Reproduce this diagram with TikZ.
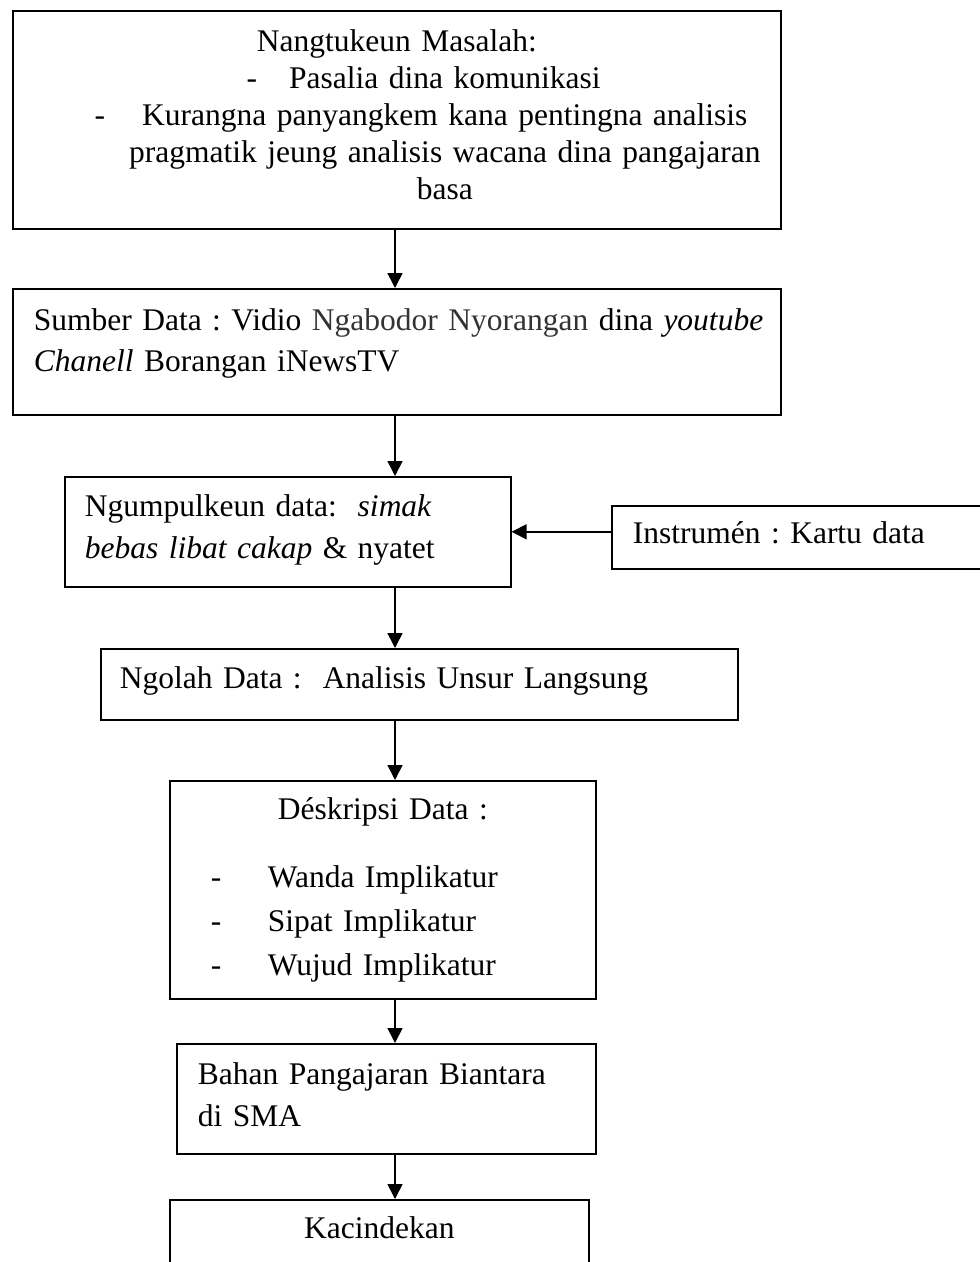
\documentclass[tikz,border=0pt]{standalone}
\usepackage{fontspec}
\setmainfont{Liberation Serif}
\usetikzlibrary{arrows.meta}
\frenchspacing

\begin{document}
\begin{tikzpicture}[x=1pt,y=1pt,yscale=-1,
  flowbox/.style={draw, line width=1.6pt, anchor=north west, inner ysep=0pt, align=left, font=\fontsize{31.5}{41}\selectfont},
  flowarrow/.style={line width=1.6pt, -{Triangle[length=15pt,width=15pt]}}]

\clip (0,0) rectangle (980,1262);

% Spine of the flow
\coordinate (spine) at (395,0);

% Problem box
\node [flowbox, inner xsep=0pt, text width=768pt, minimum height=218pt, font=\fontsize{31.5}{37}\selectfont] (masalah) at (12,10) {%
\makebox[768pt]{Nangtukeun Masalah:}\\
\makebox[768pt]{\hspace*{96pt}\llap{-\hspace{32pt}}Pasalia dina komunikasi}\\
\makebox[768pt]{\hspace*{96pt}\llap{-\hspace{37pt}}Kurangna panyangkem kana pentingna analisis}\\
\makebox[768pt]{\hspace*{96pt}pragmatik jeung analisis wacana dina pangajaran}\\
\makebox[768pt]{\hspace*{96pt}basa}\rule[-10pt]{0pt}{0pt}};

% Data source
\node [flowbox, inner xsep=21pt, text width=726pt, minimum height=126pt] (sumber) at (12,288) {%
\mbox{Sumber Data : Vidio {\color{black!80}Ngabodor Nyorangan} dina \textit{youtube}}\\
\textit{Chanell} Borangan iNewsTV\rule[-24pt]{0pt}{0pt}};

% Collecting data
\node [flowbox, inner xsep=20pt, text width=406pt, minimum height=110pt, font=\fontsize{31.5}{42}\selectfont] (kumpul) at (64,476) {%
Ngumpulkeun data:\ \ \textit{simak}\\
\textit{bebas libat cakap} \& nyatet\rule[-10pt]{0pt}{0pt}};

% Instrument
\node [flowbox, inner xsep=21pt, text width=360pt, text height=38pt, text depth=25pt] (instrumen) at (611,505) {Instrumén : Kartu data};

% Processing
\node [flowbox, inner xsep=19pt, text width=599pt, text height=40pt, text depth=31pt] (olah) at (100,648) {Ngolah Data :\ \ Analisis Unsur Langsung};

% Description
\node [flowbox, inner xsep=0pt, text width=426pt, minimum height=218pt, font=\fontsize{31.5}{44}\selectfont] (deskripsi) at (169,780) {%
\makebox[426pt]{Déskripsi Data :}\\[24pt]
\makebox[98pt][l]{\hspace*{41pt}-}Wanda Implikatur\\
\makebox[98pt][l]{\hspace*{41pt}-}Sipat Implikatur\\
\makebox[98pt][l]{\hspace*{41pt}-}Wujud Implikatur};

% Teaching material
\node [flowbox, inner xsep=21pt, text width=377pt, minimum height=110pt, font=\fontsize{31.5}{42}\selectfont] (bahan) at (176,1043) {%
Bahan Pangajaran Biantara\\
di SMA\rule[-8pt]{0pt}{0pt}};

% Conclusion
\node [flowbox, inner xsep=0pt, align=center, text width=419pt, text height=39pt, text depth=81pt] (kacindekan) at (169,1199) {Kacindekan};

% Arrows
\draw [flowarrow] (masalah.south -| spine) -- (sumber.north -| spine);
\draw [flowarrow] (sumber.south -| spine) -- (kumpul.north -| spine);
\draw [flowarrow] (kumpul.south -| spine) -- (olah.north -| spine);
\draw [flowarrow] (olah.south -| spine) -- (deskripsi.north -| spine);
\draw [flowarrow] (deskripsi.south -| spine) -- (bahan.north -| spine);
\draw [flowarrow] (bahan.south -| spine) -- (kacindekan.north -| spine);
\draw [flowarrow] (instrumen.west |- kumpul.east) -- (kumpul.east);

\end{tikzpicture}
\end{document}
